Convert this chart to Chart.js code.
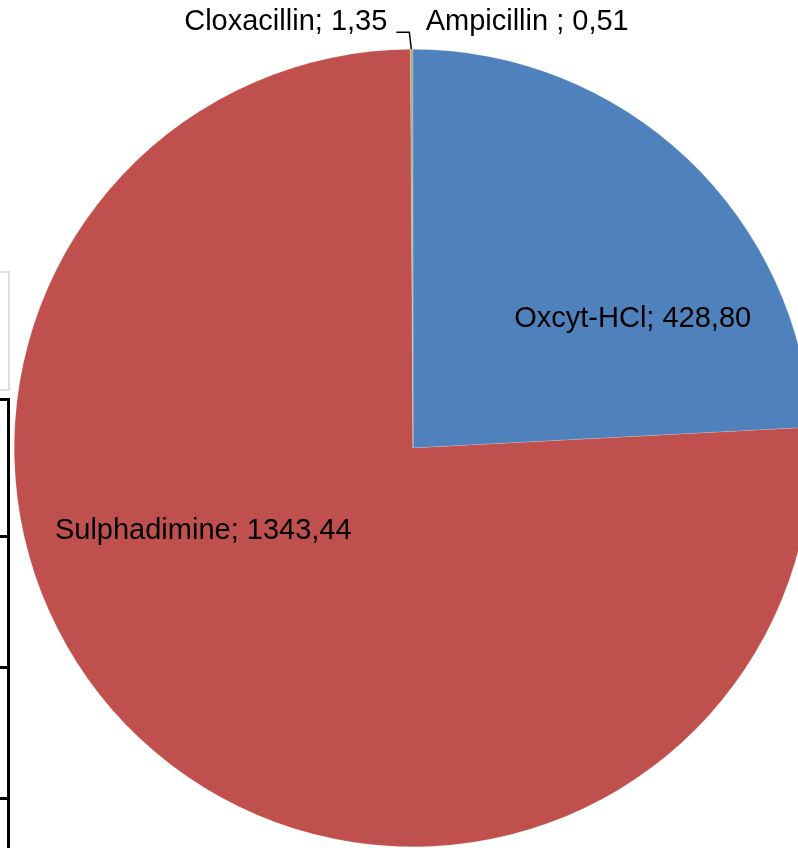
<!DOCTYPE html>
<html>
<head>
<meta charset="utf-8">
<script src="https://cdn.jsdelivr.net/npm/chart.js@4"></script>
<style>
  html, body { margin: 0; padding: 0; background: #fff; overflow: hidden; width: 798px; height: 848px; }
  #wrap { position: absolute; left: 0; top: 0; }
  /* bits of the neighbouring table that got caught in the crop */
  .edge { position: absolute; }
</style>
</head>
<body>
<div class="edge" style="left:0;top:271px;width:8px;height:116px;border:2px solid #ddd;border-left:none;"></div>
<div class="edge" style="left:7px;top:398px;width:3px;height:450px;background:#000;"></div>
<div class="edge" style="left:0;top:398px;width:10px;height:3px;background:#000;"></div>
<div class="edge" style="left:0;top:535px;width:10px;height:3px;background:#000;"></div>
<div class="edge" style="left:0;top:666px;width:10px;height:3px;background:#000;"></div>
<div class="edge" style="left:0;top:797px;width:10px;height:3px;background:#000;"></div>
<div id="wrap"><canvas id="pieChart" width="830" height="900"></canvas></div>
<script>
var categories = ['Oxcyt-HCl', 'Sulphadimine', 'Cloxacillin', 'Ampicillin'];
var amounts = [428.80, 1343.44, 1.35, 0.51];
var labelTexts = ['Oxcyt-HCl; 428,80', 'Sulphadimine; 1343,44', 'Cloxacillin; 1,35', 'Ampicillin ; 0,51'];
var sliceColors = ['#4F81BD', '#C0504D', '#9BBB59', '#8064A2'];

// where each label sits, as a fraction of the radius from the centre
var insideSpots = { 0: [0.551, -0.323], 1: [-0.526, 0.208] };

var pieLabels = {
    id: 'pieLabels',
    afterDatasetsDraw: function (chart) {
        var ctx = chart.ctx;
        var arcs = chart.getDatasetMeta(0).data;
        ctx.save();
        ctx.font = '29px "Liberation Sans", Arial, sans-serif';
        ctx.fillStyle = '#000';
        ctx.textBaseline = 'middle';

        arcs.forEach(function (arc, i) {
            var r = arc.outerRadius;
            if (insideSpots[i]) {
                ctx.textAlign = 'center';
                ctx.fillText(labelTexts[i], arc.x + insideSpots[i][0] * r, arc.y + insideSpots[i][1] * r);
                return;
            }
            var mid = (arc.startAngle + arc.endAngle) / 2;
            var px = arc.x + Math.cos(mid) * r;
            var py = arc.y + Math.sin(mid) * r;
            if (categories[i] == 'Cloxacillin') {
                ctx.strokeStyle = '#000';
                ctx.lineWidth = 1.5;
                ctx.beginPath();
                ctx.moveTo(px, py);
                ctx.lineTo(px - 2, py - 17);
                ctx.lineTo(px - 15, py - 17);
                ctx.stroke();
                ctx.textAlign = 'right';
                ctx.fillText(labelTexts[i], px - 24, py - 27);
            } else {
                ctx.textAlign = 'left';
                ctx.fillText(labelTexts[i], px + 13, py - 27);
            }
        });
        ctx.restore();
    }
};

var pie = document.getElementById('pieChart').getContext('2d');
var pieChart = new Chart(pie, {
    type: 'pie',
    data: {
        labels: categories,
        datasets: [{
            data: amounts,
            backgroundColor: sliceColors,
            borderColor: 'rgba(255,255,255,0.3)',
            borderWidth: 0.5
        }]
    },
    options: {
        responsive: false,
        animation: false,
        layout: { padding: { left: 14, right: 18, top: 49, bottom: 53 } },
        plugins: {
            legend: { display: false },
            tooltip: { enabled: false }
        }
    },
    plugins: [pieLabels]
});
</script>
</body>
</html>
